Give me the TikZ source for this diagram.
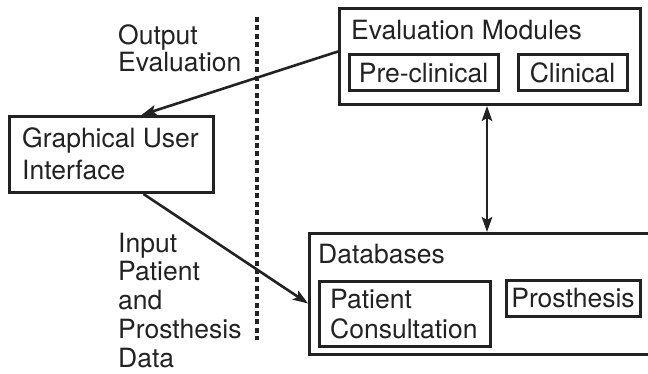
\documentclass[tikz,border=0pt]{standalone}
\usepackage{fontspec}
\setmainfont{TeX Gyre Heros}
\usetikzlibrary{arrows.meta,calc}
\definecolor{ink}{HTML}{222222}
\tikzset{
  box/.style={draw=ink, line width=3pt, inner sep=0pt, anchor=north west},
  subbox/.style={draw=ink, line width=3pt, inner sep=0pt, align=center},
  lbl/.style={text=ink, inner sep=0pt, anchor=base west, align=left,
              font=\fontsize{26.5}{28.7}\selectfont},
  conn/.style={draw=ink, line width=2.6pt,
               -{Stealth[length=15pt,width=10.5pt,inset=3pt]}},
  both/.style={draw=ink, line width=2.6pt,
               {Stealth[length=15pt,width=10.5pt,inset=3pt]}-{Stealth[length=15pt,width=10.5pt,inset=3pt]}},
  divider/.style={draw=ink, line width=3.4pt, dash pattern=on 5pt off 3.4pt}
}
\begin{document}
\begin{tikzpicture}[x=1pt,y=-1pt]
\useasboundingbox (0,0) rectangle (648,374);
\clip (0,0) rectangle (648,374);
\fill[white] (0,0) rectangle (648,374);

% evaluation modules
\node[box, minimum width=301pt, minimum height=96pt] (eval) at (338,7) {};
\node[lbl] (evaltitle) at (351,40) {Evaluation Modules};
\node[subbox, lbl, anchor=center, minimum width=149pt, minimum height=36pt] (pre) at (423.5,73) {Pre-clinical};
\node[subbox, lbl, anchor=center, minimum width=109pt, minimum height=36pt] (clin) at (572.5,73) {Clinical};

% user interface (multi-line labels are placed by their last baseline)
\node[box, minimum width=204pt, minimum height=76pt] (gui) at (8,115) {};
\node[lbl, font=\fontsize{26.5}{32}\selectfont] (guitext) at (22,180) {Graphical User\\Interface};

% databases
\node[box, minimum width=360pt, minimum height=121pt] (db) at (308,232) {};
\node[lbl] (dbtitle) at (318,263) {Databases};
\node[box, minimum width=171pt, minimum height=65pt] (pc) at (318,280) {};
\node[lbl, font=\fontsize{26.5}{30}\selectfont] (pctext) at (330,338) {Patient\\Consultation};
\node[subbox, lbl, anchor=center, minimum width=134pt, minimum height=36pt] (pros) at (573,298) {Prosthesis};

% side labels
\node[lbl, font=\fontsize{26.5}{27}\selectfont] (outlbl) at (118,72) {Output\\Evaluation};
\node[lbl] (inlbl) at (118,367) {Input\\Patient\\and\\Prosthesis\\Data};

% dashed divider
\coordinate (dtop) at (257,17);
\coordinate (dbot) at (257,340);
\draw[divider] (dtop) -- (dbot);

% connectors
\draw[conn] ([yshift=5pt]eval.west) -- ([xshift=30pt]gui.north);
\draw[conn] ([xshift=32pt]gui.south) -- ([yshift=-9.5pt]db.west);
\coordinate (vx) at (487,0);
\draw[both] (eval.south -| vx) -- (db.north -| vx);
\end{tikzpicture}
\end{document}
